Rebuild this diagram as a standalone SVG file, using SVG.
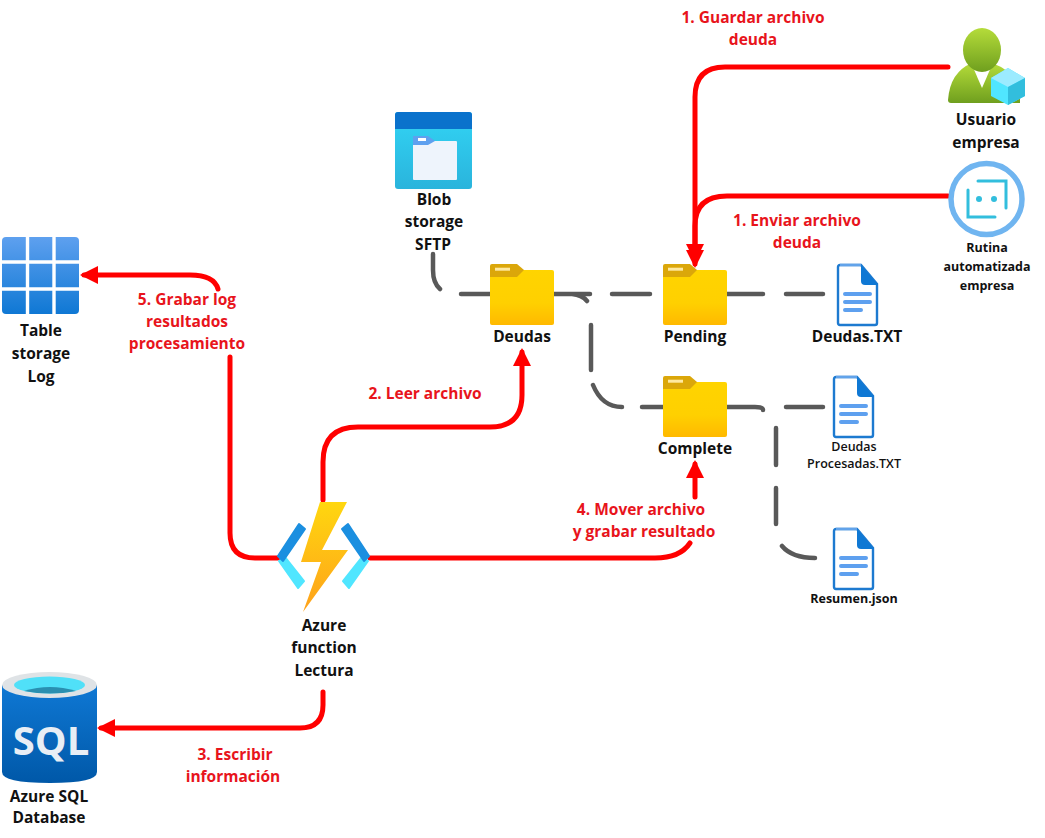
<svg xmlns="http://www.w3.org/2000/svg" width="1045" height="838" viewBox="0 0 1045 838">
<style>
text{font-family:"Open Sans","Noto Sans","Liberation Sans",sans-serif;font-weight:700;text-anchor:middle;fill:#111}
.n{font-size:15.500px}.s{font-size:12.500px}.r{font-size:15.500px;fill:#e8141c}
.red{fill:none;stroke:#f00;stroke-width:5;stroke-linecap:round}
.gr{fill:none;stroke:#595959;stroke-width:4.500;stroke-linecap:round}
.cd{fill:#1b8fe0;stroke:#1b8fe0;stroke-width:2;stroke-linejoin:round}
.cl{fill:#50e6ff;stroke:#50e6ff;stroke-width:2;stroke-linejoin:round}
</style>
<defs>
<marker id="a" markerUnits="userSpaceOnUse" markerWidth="20" markerHeight="20" refX="14" refY="9" orient="auto"><path d="M0 0L18 9L0 18z" fill="#f00"/></marker>
<linearGradient id="fy" x1="0" y1="0" x2="0" y2="1"><stop offset="0" stop-color="#ffd400"/><stop offset=".6" stop-color="#ffd000"/><stop offset="1" stop-color="#ffb900"/></linearGradient>
<linearGradient id="bl" x1="0" y1="0" x2="0" y2="1"><stop offset="0" stop-color="#32d4f5"/><stop offset="1" stop-color="#2ab4dc"/></linearGradient>
<linearGradient id="tb" x1="0" y1="0" x2="0" y2="1"><stop offset="0" stop-color="#5ea0ef"/><stop offset="1" stop-color="#0f78d4"/></linearGradient>
<linearGradient id="sq" x1="0" y1="0" x2="0" y2="1"><stop offset="0" stop-color="#0f78d4"/><stop offset="1" stop-color="#0058a8"/></linearGradient>
<linearGradient id="bo" x1="0" y1="0" x2="0" y2="1"><stop offset="0" stop-color="#ffd70f"/><stop offset="1" stop-color="#fea11b"/></linearGradient>
<linearGradient id="us" x1="0" y1="0" x2="0" y2="1"><stop offset="0" stop-color="#b5dc3a"/><stop offset="1" stop-color="#6f9f1e"/></linearGradient>
<g id="folder"><rect x="0" y="6" width="64" height="55" rx="2" fill="url(#fy)"/><path d="M2 0H27L34 6L27 13H0V2Q0 0 2 0z" fill="#dba70a"/><rect x="5" y="3.700" width="15" height="3" fill="#ffe9a0"/></g>
<g id="doc"><path d="M3 1H24L40 20V59Q40 61 38 61H3Q1 61 1 59V3Q1 1 3 1z" fill="#fff" stroke="#1d7ad0" stroke-width="2.400"/><path d="M24 1L41 21H28Q24 21 24 17z" fill="#0f78d4"/><path d="M3 1H24" stroke="#62a3ea" stroke-width="2.400"/><path d="M8 30H33M8 38H33M8 46H24" stroke="#5ea0ef" stroke-width="4" stroke-linecap="round"/></g>
</defs>

<g id="connectors">
<path class="red" marker-end="url(#a)" d="M948 67H725Q695 67 695 97V264"/>
<path class="red" marker-end="url(#a)" d="M948 196H727Q695 196 695 226V258"/>
<path class="red" marker-end="url(#a)" d="M323 500V462Q323 427 358 427H490Q522 427 522 395V352"/>
<path class="red" d="M370 558H655Q680 558 690 543"/>
<path class="red" marker-end="url(#a)" d="M695 497V464"/>
<path class="red" d="M278 558H255Q230 558 230 533V357"/>
<path class="red" marker-end="url(#a)" d="M218 289Q214 275 190 275H84"/>
<path class="red" marker-end="url(#a)" d="M323 692V705Q323 728 300 728H101"/>
<path class="gr" d="M433 254V270Q433 283 440 289M461 294H490M553 294H590M572 294Q582 295 587 301M612 294H650M727 294H763M786 294H823"/>
<path class="gr" d="M591 325V370M593 385Q602 407 622 407M642 407H664M725 407H755Q763 407 763 410M786 407H823M776 428V465M776 488V524M782 546Q792 558 815 558"/>
</g>

<g id="usuario">
<path d="M948 100Q950 72 972 63H992Q1012 70 1020 88L1020 103H951Q948 103 948 100z" fill="url(#us)"/>
<path d="M972 65H992L982 88z" fill="#fff"/>
<ellipse cx="982" cy="50" rx="19" ry="22" fill="url(#us)"/>
<path d="M1008 68L1025 78V96L1008 105L991 96V78z" fill="#50e6ff"/><path d="M1008 68L1025 78L1008 87L991 78z" fill="#9cebff"/><path d="M1025 78V96L1008 105V87z" fill="#32bedd"/>
<text class="n" x="986" y="125">Usuario</text><text class="n" x="986" y="148">empresa</text>
</g>
<g id="rutina">
<circle cx="986.500" cy="199" r="35.500" fill="#fff" stroke="#70b5f0" stroke-width="5.500"/>
<path d="M978 181H1006V208" fill="none" stroke="#32bedd" stroke-width="3" stroke-linecap="round"/>
<path d="M968 190V217H995" fill="none" stroke="#32bedd" stroke-width="3" stroke-linecap="round"/>
<circle cx="979" cy="199" r="3" fill="#32bedd"/><circle cx="994" cy="199" r="3" fill="#32bedd"/>
<text class="s" x="987" y="252">Rutina</text><text class="s" x="987" y="271">automatizada</text><text class="s" x="987" y="290">empresa</text>
</g>
<g id="blob">
<rect x="395" y="112" width="77" height="77" rx="3" fill="url(#bl)"/>
<path d="M395 129V115Q395 112 398 112H469Q472 112 472 115V129z" fill="#0a72cc"/>
<rect x="413" y="141" width="44" height="39" rx="1" fill="#eef4fc"/>
<path d="M413 136H428L435 141L428 145H413z" fill="#5ea0ef"/><rect x="418" y="138" width="8" height="3" fill="#fff"/>
<text class="n" x="434" y="205">Blob</text><text class="n" x="434" y="227">storage</text><text class="n" x="433" y="250">SFTP</text>
</g>
<g id="deudas"><use href="#folder" x="490" y="264"/><text class="n" x="522" y="342">Deudas</text></g>
<g id="pending"><use href="#folder" x="663" y="264"/><text class="n" x="695" y="342">Pending</text></g>
<g id="complete"><use href="#folder" x="663" y="376"/><text class="n" x="695" y="454">Complete</text></g>
<g id="deudastxt"><use href="#doc" x="837" y="264"/><text class="n" x="857" y="342">Deudas.TXT</text></g>
<g id="procesadas"><use href="#doc" x="833" y="376"/><text class="s" x="854" y="451" style="font-weight:600">Deudas</text><text class="s" x="854" y="468" style="font-weight:600">Procesadas.TXT</text></g>
<g id="resumen"><use href="#doc" x="833" y="528"/><text class="s" x="854" y="603">Resumen.json</text></g>
<g id="table">
<rect x="2" y="237" width="77" height="77" rx="4" fill="url(#tb)"/>
<path d="M27.500 237V314M54 237V314M2 262H79M2 289H79" stroke="#fff" stroke-width="3.400" fill="none"/>
<text class="n" x="41" y="336">Table</text><text class="n" x="41" y="359">storage</text><text class="n" x="41" y="382">Log</text>
</g>
<g id="function">
<path d="M320 502H347L322 550H348L303 612L321 562H301z" fill="url(#bo)"/>
<path class="cl" d="M279 561L285 557L304 581L298 588z"/>
<path class="cd" d="M299 524L305 529L283 561L278 556z"/>
<path class="cl" d="M368 561L362 557L343 581L349 588z"/>
<path class="cd" d="M348 524L342 529L364 561L369 556z"/>
<text class="n" x="324" y="631">Azure</text><text class="n" x="324" y="653">function</text><text class="n" x="324" y="676">Lectura</text>
</g>
<g id="sql">
<path d="M2 685V772Q2 783 50 783Q97 783 97 772V685z" fill="url(#sq)"/>
<ellipse cx="49.500" cy="685" rx="47.500" ry="13" fill="#dfe3e6"/>
<ellipse cx="49.500" cy="685" rx="35.500" ry="8.500" fill="#50e0f8"/>
<path d="M24 691Q50 683 76 691Q50 696 24 691z" fill="#2a8fb0"/>
<text x="51" y="755" style="font-size:40px;font-weight:700;fill:#e8eef5">SQL</text>
<text class="n" x="49" y="802">Azure SQL</text><text class="n" x="49" y="823">Database</text>
</g>
<g id="labels">
<text class="r" x="753" y="23">1. Guardar archivo</text><text class="r" x="753" y="45">deuda</text>
<text class="r" x="797" y="226">1. Enviar archivo</text><text class="r" x="797" y="248">deuda</text>
<text class="r" x="425" y="399">2. Leer archivo</text>
<text class="r" x="235" y="760">3. Escribir</text><text class="r" x="233" y="782">información</text>
<text class="r" x="641" y="515">4. Mover archivo</text><text class="r" x="644" y="537">y grabar resultado</text>
<text class="r" x="187" y="305">5. Grabar log</text><text class="r" x="187" y="327">resultados</text><text class="r" x="187" y="349">procesamiento</text>
</g>
</svg>
